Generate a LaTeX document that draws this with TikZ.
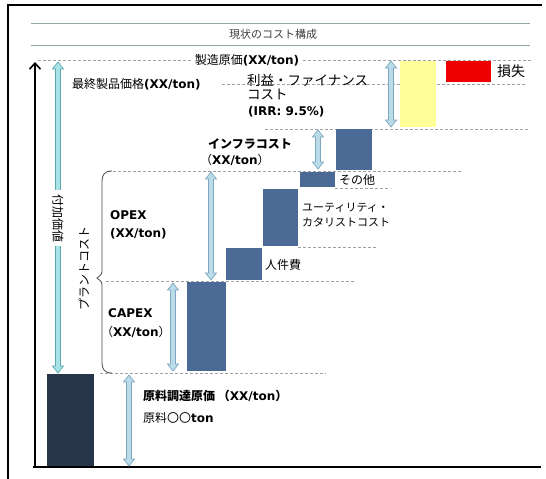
\documentclass[tikz,border=0pt]{standalone}
\usepackage{fontspec}
\setmainfont{DejaVu Sans}
\newfontfamily\jp{Noto Sans CJK JP}
\usetikzlibrary{calc,arrows.meta}
\definecolor{barblue}{HTML}{4B6A96}
\definecolor{bardark}{HTML}{263549}
\definecolor{lbfill}{HTML}{B9DCE8}
\definecolor{lbline}{HTML}{7EA6BE}
\definecolor{cyfill}{HTML}{A6E2E6}
\definecolor{cyline}{HTML}{5FA7AE}
\definecolor{titleline}{HTML}{8FA6A6}
\definecolor{lossred}{HTML}{EE0000}
\definecolor{profyellow}{HTML}{FFFF99}
\newcommand\fsz[1]{\fontsize{#1}{#1}\selectfont}
\newcommand\dbarrow[3][lbarrow]{%
  \draw[#1] let \p1=(#2), \p2=(#3) in
   (\x1,\y1) -- (\x1+5.5pt,\y1-7pt) -- (\x1+2.5pt,\y1-7pt) -- (\x1+2.5pt,\y2+7pt)
   -- (\x1+5.5pt,\y2+7pt) -- (\x1,\y2) -- (\x1-5.5pt,\y2+7pt) -- (\x1-2.5pt,\y2+7pt)
   -- (\x1-2.5pt,\y1-7pt) -- (\x1-5.5pt,\y1-7pt) -- cycle;}
\begin{document}
\begin{tikzpicture}[x=1pt,y=-1pt,
  lbl/.style={inner sep=0pt, font=\fsz{12}},
  dline/.style={gray!75, dash pattern=on 3pt off 2pt, line width=0.8pt},
  bar/.style={fill=barblue, draw=none},
  lbarrow/.style={fill=lbfill, draw=lbline, line width=0.7pt},
  cyarrow/.style={fill=cyfill, draw=cyline, line width=0.7pt}]
\useasboundingbox (0,0) rectangle (546,479);
% frame
\draw[line width=2pt] (8,479) -- (8,5) -- (542,5);
% title
\draw[titleline, line width=1pt] (31,23) -- (530,23);
\draw[titleline, line width=1pt] (31,45) -- (530,45);
\node[lbl, font=\fsz{11}, text=gray!50!black] (title) at (273,34) {\jp 現状のコスト構成};
% dashed levels
\draw[dline] (38,60) -- (532,60);
\draw[dline] (222,84) -- (526,84);
\draw[dline] (265,129) -- (530,129);
\draw[dline] (108,171) -- (463,171);
\draw[dline] (335,188) -- (390,188);
\draw[dline] (298,247) -- (376,247);
\draw[dline] (106,281) -- (354,281);
\draw[dline] (100,373) -- (326,373);
% bars
\fill[profyellow] (400,61) rectangle (436,127);
\fill[lossred] (446,61) rectangle (491,82);
\fill[bar] (336,129) rectangle (372,170);
\fill[bar] (300,172) rectangle (335,187);
\fill[bar] (263,189) rectangle (298,246);
\fill[bar] (226,248) rectangle (262,280);
\fill[bar] (187,282) rectangle (226,371);
\fill[bardark] (47,374) rectangle (94,467);
% axes
\coordinate (axO) at (35,467);
\coordinate (axT) at (35,62);
\coordinate (axR) at (541,467);
\draw[line width=2pt] (33,467) -- (axR);
\draw[line width=1.6pt, -{Straight Barb[length=6pt,width=11pt]}] (axO) -- (axT);
% fat arrows
\coordinate (vaT) at (58,62); \coordinate (vaB) at (58,373);
\dbarrow[cyarrow]{vaT}{vaB}
\coordinate (prT) at (391,61); \coordinate (prB) at (391,127);
\dbarrow{prT}{prB}
\coordinate (inT) at (318,130); \coordinate (inB) at (318,169);
\dbarrow{inT}{inB}
\coordinate (opT) at (211,172); \coordinate (opB) at (211,280);
\dbarrow{opT}{opB}
\coordinate (caT) at (173,283); \coordinate (caB) at (173,371);
\dbarrow{caT}{caB}
\coordinate (rmT) at (129,375); \coordinate (rmB) at (129,466);
\dbarrow{rmT}{rmB}
% brace
\coordinate (brT) at (112,171); \coordinate (brB) at (112,373);
\draw[gray!60!black, line width=0.8pt] (brT) .. controls (104,171) and (102,175) .. (102,182)
  -- (102,269) .. controls (102,274) .. (97,278) .. controls (102,282) .. (102,287)
  -- (102,362) .. controls (102,369) and (104,373) .. (brB);
% labels
\node[lbl, fill=white, inner xsep=3pt] (mfg) at (247,60) {{\jp 製造原価}\textbf{(XX/ton)}};
\node[lbl, anchor=west] (final) at (72,84) {{\jp 最終製品価格}\textbf{(XX/ton)}};
\node[lbl, anchor=west, font=\fsz{13.5}] (prof1) at (247,80) {\jp 利益・ファイナンス};
\node[lbl, anchor=west, font=\fsz{13.5}] (prof2) at (247,94) {\jp コスト};
\node[lbl, anchor=west] (irr) at (248,112) {\textbf{(IRR: 9.5\%)}};
\node[lbl, anchor=west, font=\fsz{14}] (loss) at (497,71) {\jp 損失};
\node[lbl, anchor=west, font=\fsz{12}\bfseries] (infra) at (208,144) {\jp インフラコスト};
\node[lbl, anchor=west] (infraxx) at (200,160) {{\jp （}\textbf{XX/ton}{\jp ）}};
\node[lbl, anchor=west] (other) at (339,180) {\jp その他};
\node[lbl, anchor=west, font=\fsz{11}] (util1) at (302,208) {\jp ユーティリティ・};
\node[lbl, anchor=west, font=\fsz{11}] (util2) at (302,222) {\jp カタリストコスト};
\node[lbl, anchor=west] (labor) at (265,265) {\jp 人件費};
\node[lbl, anchor=west] (opex) at (110,215) {\textbf{OPEX}};
\node[lbl, anchor=west] (opexxx) at (110,234) {\textbf{(XX/ton)}};
\node[lbl, anchor=west] (capex) at (108,313) {\textbf{CAPEX}};
\node[lbl, anchor=west] (capexxx) at (101,332) {{\jp （}\textbf{XX/ton}{\jp ）}};
\node[lbl, anchor=west] (raw1) at (143,396) {{\jp\bfseries 原料調達原価 （}\textbf{XX/ton}{\jp\bfseries ）}};
\node[lbl, anchor=west] (raw2) at (143,418) {{\jp 原料〇〇}\textbf{ton}};
\node[lbl, rotate=-90, fill=white, inner ysep=3pt, inner xsep=4pt] (va) at (58,218) {\jp 付加価値};
\node[lbl, rotate=90] (plant) at (84,268) {\jp プラントコスト};
\end{tikzpicture}
\end{document}
